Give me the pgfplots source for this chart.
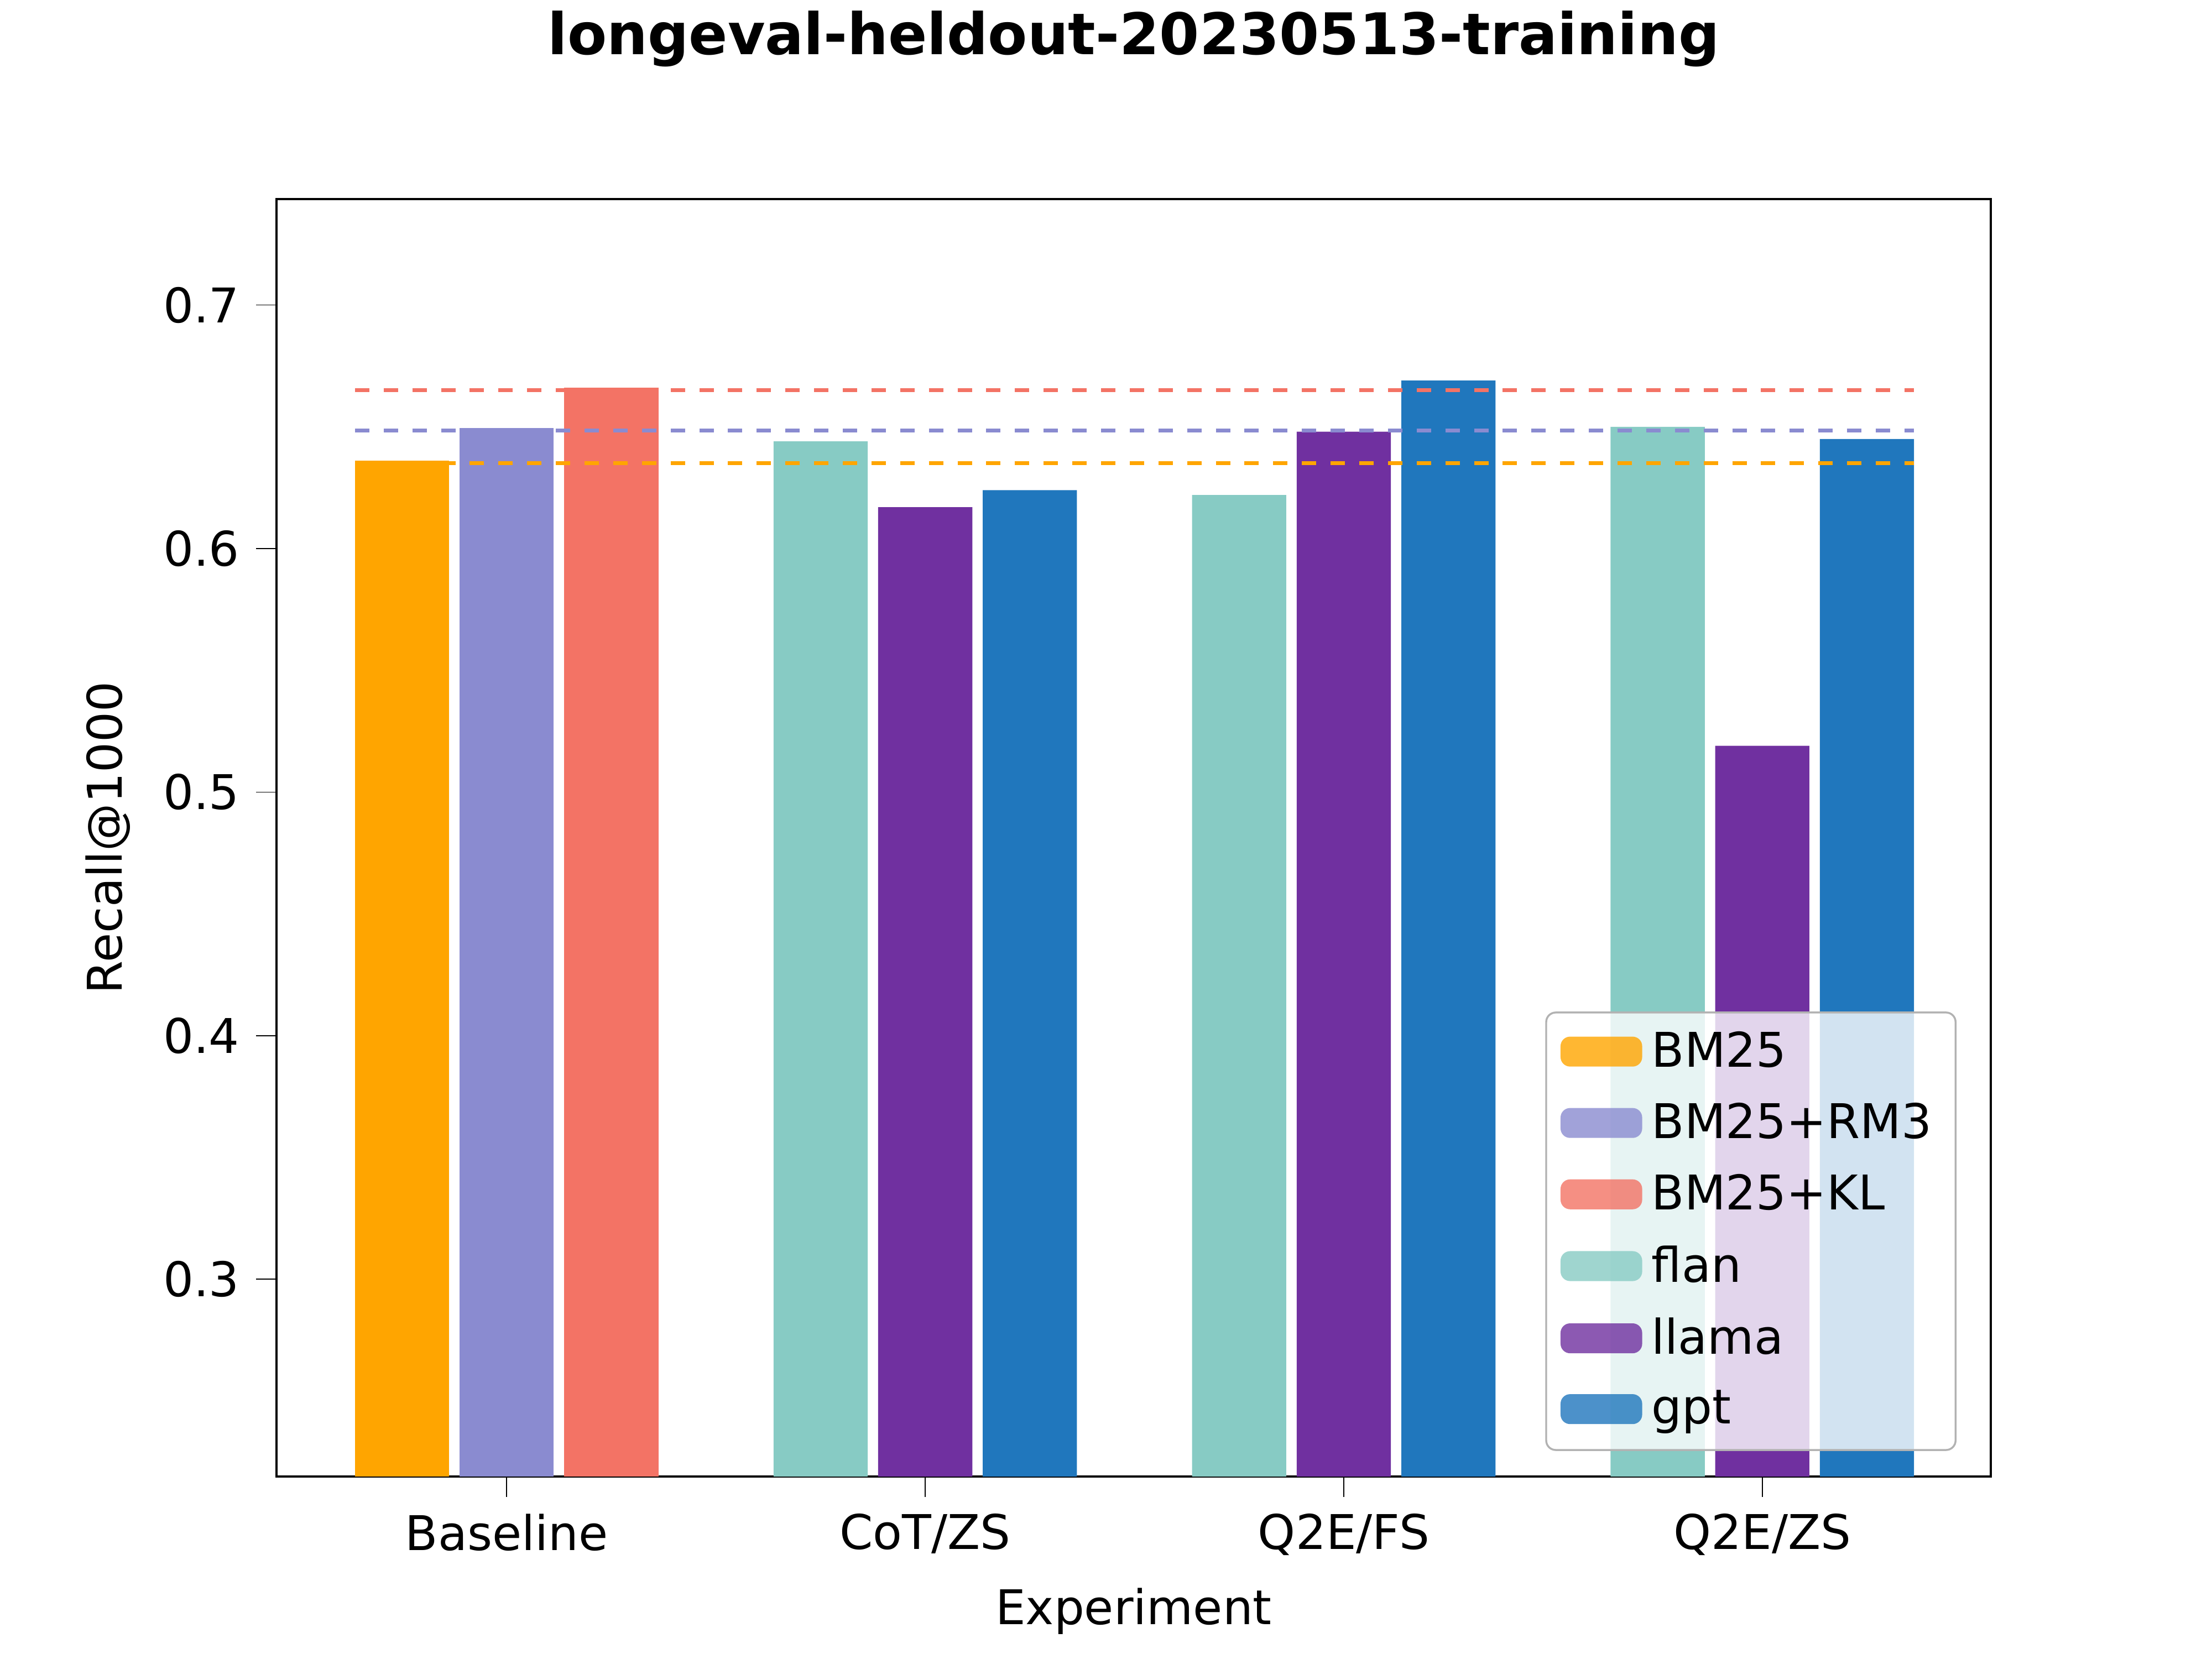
\documentclass[border=0pt]{standalone}
\usepackage{pgfplots}
\pgfplotsset{compat=1.18}
\usepackage{fontspec}
\setmainfont{DejaVu Sans}
\definecolor{cbm}{HTML}{FFA500}
\definecolor{crm}{HTML}{8A8BD0}
\definecolor{ckl}{HTML}{F37365}
\definecolor{cfl}{HTML}{87CBC4}
\definecolor{cll}{HTML}{7030A0}
\definecolor{cgp}{HTML}{2077BD}
\begin{document}
\begin{tikzpicture}
\useasboundingbox (-0.8in,-0.528in) rectangle (5.6in,4.272in);
\begin{axis}[at={(0,0)},anchor=south west,scale only axis,
 width=4.96in,height=3.696in,
 ymin=0.219,ymax=0.7435,xmin=-0.55,xmax=3.546,
 xtick={0,1,2,3},xticklabels={Baseline,CoT/ZS,Q2E/FS,Q2E/ZS},
 ytick={0.3,0.4,0.5,0.6,0.7},
 yticklabel style={/pgf/number format/.cd,fixed,precision=1,assume math mode=true},
 tick style={black},tick align=outside,
 xtick pos=bottom,ytick pos=left,
 xlabel={Experiment},ylabel={Recall@1000},
 title={\bfseries longeval-heldout-20230513-training},
 title style={font=\large,yshift=0.25in},
 ticklabel style={font=\normalsize},
 ybar,bar width=0.225,
 legend style={at={(0.98,0.02)},anchor=south east,font=\normalsize,
  fill=white,fill opacity=0.8,text opacity=1,draw=gray!60,rounded corners=2pt,
  row sep=2pt},
 legend cell align=left,
 legend image code/.code={\fill[#1,draw=none] (0cm,-0.1cm) rectangle (0.6cm,0.12cm);},
]
\addplot[fill=cbm,draw=none,bar shift=-0.25] coordinates {(0,0.636)};
\addplot[fill=crm,draw=none,bar shift=0] coordinates {(0,0.6496)};
\addplot[fill=ckl,draw=none,bar shift=0.25] coordinates {(0,0.666)};
\addplot[fill=cfl,draw=none,bar shift=-0.25] coordinates {(1,0.644)(2,0.622)(3,0.650)};
\addplot[fill=cll,draw=none,bar shift=0] coordinates {(1,0.617)(2,0.648)(3,0.519)};
\addplot[fill=cgp,draw=none,bar shift=0.25] coordinates {(1,0.624)(2,0.669)(3,0.645)};
\legend{BM25,BM25+RM3,BM25+KL,flan,llama,gpt}
\addplot[sharp plot,cbm,thick,dashed,forget plot] coordinates {(-0.3625,0.635)(3.3625,0.635)};
\addplot[sharp plot,crm,thick,dashed,forget plot] coordinates {(-0.3625,0.6485)(3.3625,0.6485)};
\addplot[sharp plot,ckl,thick,dashed,forget plot] coordinates {(-0.3625,0.665)(3.3625,0.665)};
\end{axis}
\end{tikzpicture}
\end{document}
